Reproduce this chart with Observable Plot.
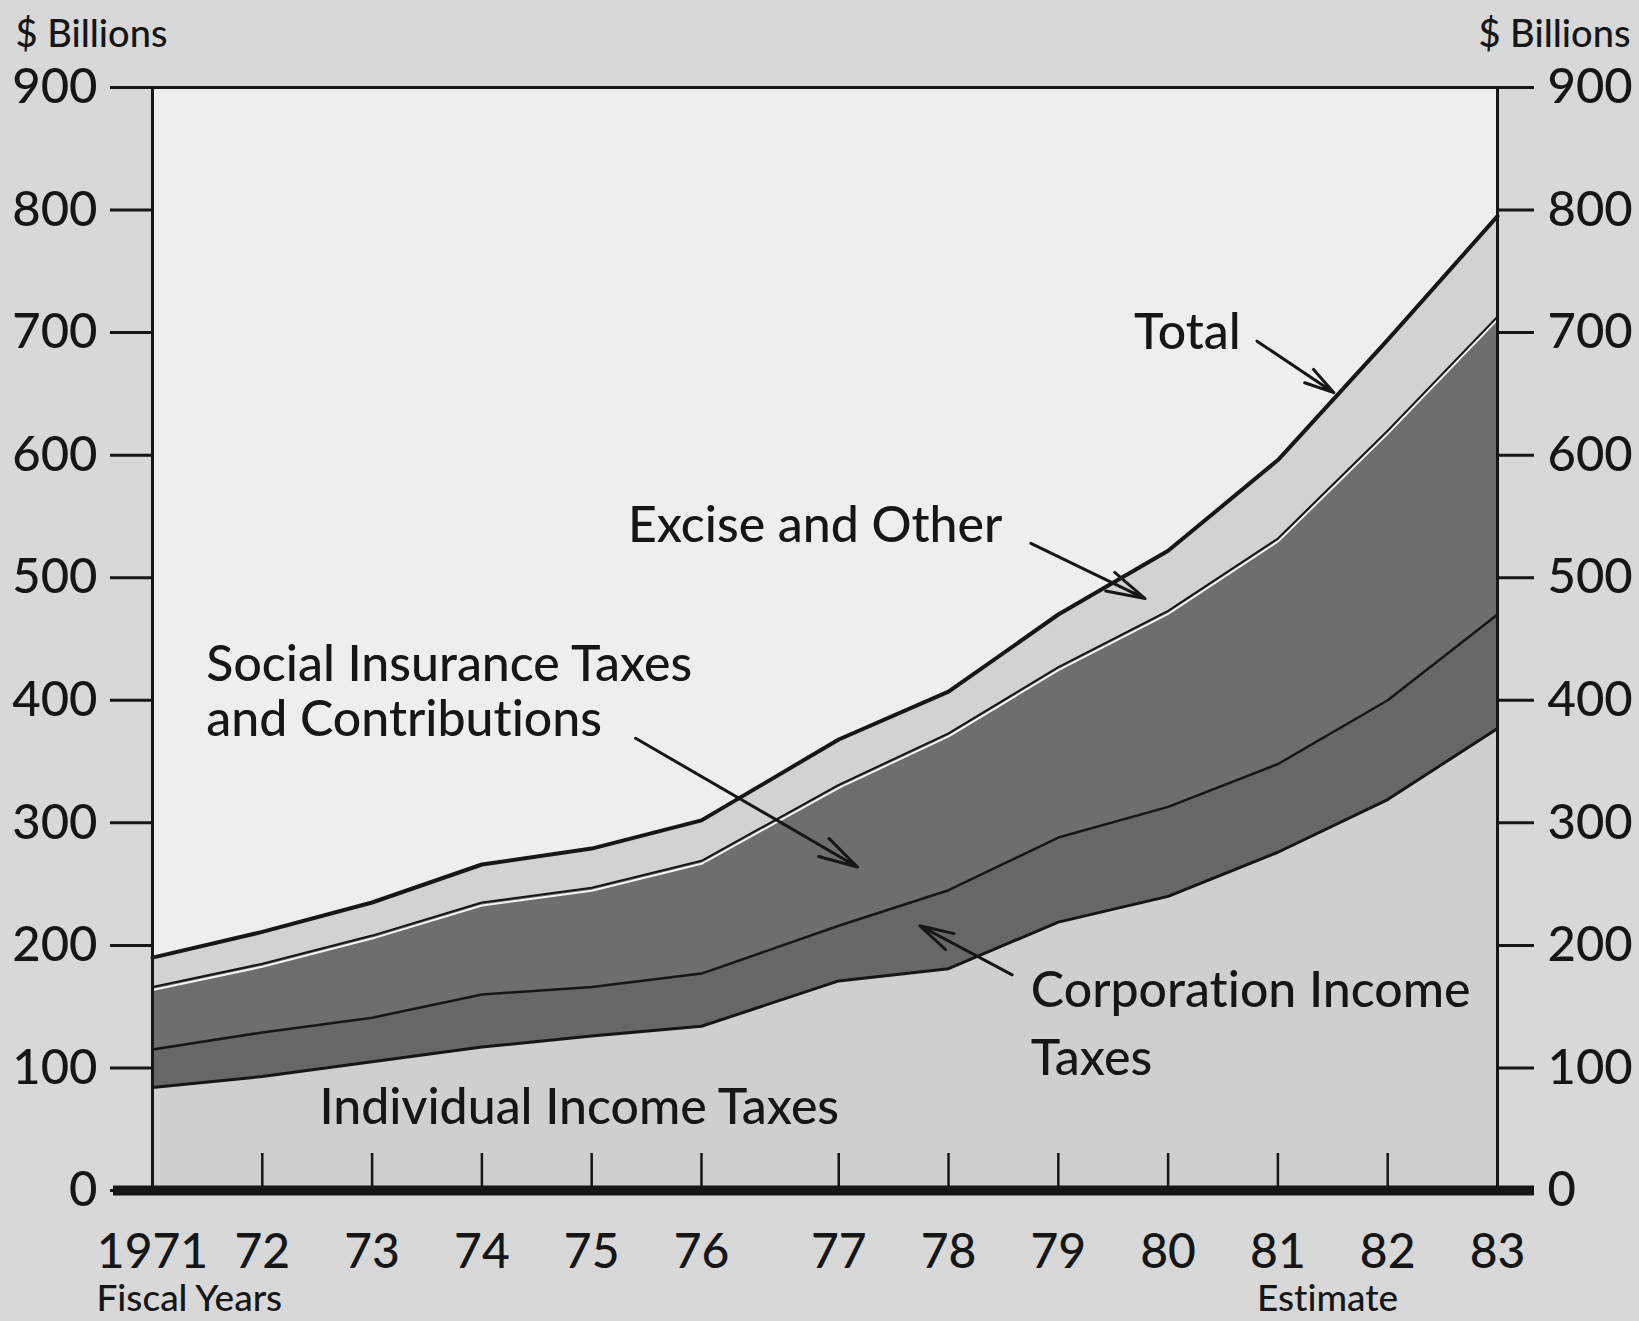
<!DOCTYPE html>
<html>
<head>
<meta charset="utf-8">
<script src="https://cdn.jsdelivr.net/npm/d3@7"></script>
<script src="https://cdn.jsdelivr.net/npm/@observablehq/plot@0.6"></script>
<style>
  html, body { margin: 0; padding: 0; background: #d8d8d8; overflow: hidden; }
  svg text { font-variant-ligatures: none; font-feature-settings: "liga" 0; }
</style>
</head>
<body>
<div id="chart"></div>
<script>
// ---- data (billions of dollars) ----
const years = [1971, 1972, 1973, 1974, 1975, 1976, 1977, 1978, 1979, 1980, 1981, 1982, 1983];
const tickLabels = ["1971", "72", "73", "74", "75", "76", "77", "78", "79", "80", "81", "82", "83"];
const individual      = [84, 93, 105, 117, 126, 134, 171, 181, 219, 240, 276, 319, 377];
const corporation     = [31, 36, 36, 43, 40, 43, 45, 64, 69, 73, 72, 81, 93];
const socialInsurance = [51, 56, 67, 75, 81, 92, 115, 128, 139, 160, 184, 220, 243];
const exciseOther     = [24, 26, 27, 31, 32, 33, 37, 34, 43, 49, 64, 74, 82];
const seriesNames = ["Individual Income Taxes", "Corporation Income Taxes", "Social Insurance Taxes and Contributions", "Excise and Other"];
const yTicks = [0, 100, 200, 300, 400, 500, 600, 700, 800, 900];

// fiscal years ended June 30 until 1976, September 30 from 1977 (transition quarter between)
const fyEnd = y => y < 1977 ? y + 0.5 : y + 0.75;
const tickTimes = years.map(fyEnd);
const labelOf = new Map(tickTimes.map((t, i) => [t, tickLabels[i]]));

const seriesValues = [individual, corporation, socialInsurance, exciseOther];
const rows = years.map((y, i) => ({
  t: fyEnd(y),
  individual: individual[i], corporation: corporation[i],
  social: socialInsurance[i], excise: exciseOther[i]
}));
const long = years.flatMap((y, i) => seriesNames.map((s, j) => ({t: fyEnd(y), series: s, value: seriesValues[j][i]})));

// ---- styles ----
const fills = ["#cfcfcf", "#676767", "#6e6e6e", "#d2d2d2"];
const ink = "#161616";
const annoSize = 50;
const weight = 500;

// annotation placement (layout, in chart coordinates)
const annotations = [
  {text: "Total", x: 1980.44, y: 687, lineHeight: 1},
  {text: "Excise and Other", x: 1975.83, y: 529, lineHeight: 1},
  {text: "Social Insurance Taxes\nand Contributions", x: 1971.99, y: 371, lineHeight: 1.1},
  {text: "Corporation Income\nTaxes", x: 1979.5, y: 94, lineHeight: 1.36},
  {text: "Individual Income Taxes", x: 1973.02, y: 54, lineHeight: 1}
];
const arrows = [
  {x1: 1981.56, y1: 693, x2: 1982.26, y2: 651},
  {x1: 1979.5, y1: 528, x2: 1980.54, y2: 483},
  {x1: 1975.9, y1: 369, x2: 1977.92, y2: 264},
  {x1: 1979.33, y1: 176, x2: 1978.49, y2: 216}
];

const chart = Plot.plot({
  width: 1639,
  height: 1321,
  marginLeft: 152,
  marginRight: 142,
  marginTop: 87,
  marginBottom: 131,
  style: {background: "#d8d8d8", fontFamily: "Lato, 'Open Sans', sans-serif", color: ink, overflow: "visible"},
  x: {domain: [fyEnd(1971), fyEnd(1983)]},
  y: {domain: [0, 900]},
  color: {domain: seriesNames, range: fills},
  marks: [
    Plot.frame({fill: "#eeeeee", stroke: null}),
    Plot.areaY(long, {x: "t", y: "value", z: "series", fill: "series", order: seriesNames}),
    // layer boundaries
    Plot.lineY(rows, {x: "t", y: d => d.individual, stroke: ink, strokeWidth: 3}),
    Plot.lineY(rows, {x: "t", y: d => d.individual + d.corporation, stroke: ink, strokeWidth: 2.5}),
    Plot.lineY(rows, {x: "t", y: d => d.individual + d.corporation + d.social, stroke: "#f4f4f4", strokeWidth: 2, dy: 3}),
    Plot.lineY(rows, {x: "t", y: d => d.individual + d.corporation + d.social, stroke: ink, strokeWidth: 2}),
    Plot.lineY(rows, {x: "t", y: d => d.individual + d.corporation + d.social + d.excise, stroke: ink, strokeWidth: 4}),
    // axes
    Plot.axisY(yTicks, {anchor: "left", tickSize: 42, tickPadding: 13, fontSize: 49, fontWeight: weight, strokeWidth: 3, label: null, tickFormat: d => d}),
    Plot.axisY(yTicks, {anchor: "right", tickSize: 36, tickPadding: 14, fontSize: 49, fontWeight: weight, strokeWidth: 3, label: null, tickFormat: d => d}),
    Plot.axisX(tickTimes, {tickSize: 37, dy: -37, strokeWidth: 2.5, tickFormat: () => "", label: null}),
    Plot.axisX(tickTimes, {tickSize: 0, tickPadding: 43, fontSize: 48, fontWeight: weight, label: null, tickFormat: d => labelOf.get(d)}),
    Plot.ruleY([0], {stroke: ink, strokeWidth: 10, insetLeft: -39, insetRight: -37}),
    Plot.frame({stroke: ink, strokeWidth: 3}),
    // annotations
    ...annotations.map(a => Plot.text([a], {x: "x", y: "y", text: "text", textAnchor: "start", lineAnchor: "bottom", fontSize: annoSize, fontWeight: weight, lineHeight: a.lineHeight, fill: ink})),
    Plot.arrow(arrows, {x1: "x1", y1: "y1", x2: "x2", y2: "y2", stroke: ink, strokeWidth: 3, headLength: 20, headAngle: 30, bend: 0}),
    // outer labels
    Plot.text(["$ Billions"], {text: d => d, frameAnchor: "top-left", dx: -137, dy: -41, textAnchor: "start", lineAnchor: "bottom", fontSize: 38, fontWeight: weight, fill: ink}),
    Plot.text(["$ Billions"], {text: d => d, frameAnchor: "top-right", dx: 133, dy: -41, textAnchor: "end", lineAnchor: "bottom", fontSize: 38, fontWeight: weight, fill: ink}),
    Plot.text(["Fiscal Years"], {text: d => d, frameAnchor: "bottom-left", dx: -56, dy: 120, textAnchor: "start", lineAnchor: "bottom", fontSize: 37, fontWeight: weight, fill: ink}),
    Plot.text(["Estimate"], {text: d => d, frameAnchor: "bottom-right", dx: -170, dy: 120, textAnchor: "middle", lineAnchor: "bottom", fontSize: 37, fontWeight: weight, fill: ink})
  ]
});
document.getElementById("chart").appendChild(chart);
</script>
</body>
</html>
